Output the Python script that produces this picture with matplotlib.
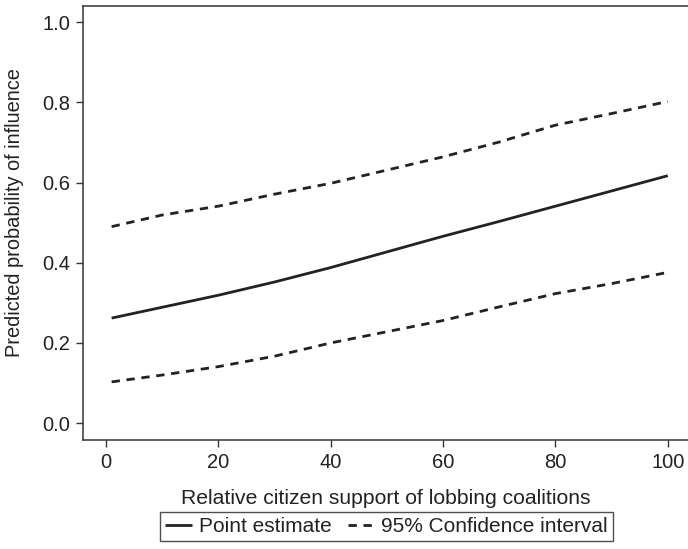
import matplotlib
matplotlib.use("Agg")
import matplotlib.pyplot as plt

# values
support = [1, 10, 20, 30, 40, 50, 60, 70, 80, 90, 100]
point_est = [0.262, 0.289, 0.319, 0.352, 0.388, 0.427, 0.466, 0.503, 0.541, 0.579, 0.617]
ci_upper = [0.490, 0.519, 0.541, 0.571, 0.598, 0.631, 0.664, 0.701, 0.743, 0.772, 0.802]
ci_lower = [0.103, 0.120, 0.141, 0.167, 0.200, 0.228, 0.256, 0.290, 0.323, 0.348, 0.376]

x_ticks = [0, 20, 40, 60, 80, 100]
y_ticks = [0.0, 0.2, 0.4, 0.6, 0.8, 1.0]

plt.rcParams['font.family'] = ['Liberation Sans', 'DejaVu Sans']
ink = "#222222"

fig = plt.figure(figsize=(6.88, 5.49), dpi=100)
ax = fig.add_axes([0.1206, 0.1985, 0.8794, 0.7905])

ax.plot(support, point_est, color=ink, lw=2.0, solid_capstyle="butt",
        label="Point estimate")
ax.plot(support, ci_upper, color=ink, lw=2.0, dashes=(3.0, 2.4),
        label="95% Confidence interval")
ax.plot(support, ci_lower, color=ink, lw=2.0, dashes=(3.0, 2.4))

ax.set_xlim(-4.1, 103.6)
ax.set_ylim(-0.042, 1.04)
ax.set_xticks(x_ticks)
ax.set_yticks(y_ticks)
ax.set_yticklabels(["%.1f" % v for v in y_ticks])

ax.spines["right"].set_visible(False)
for side in ["left", "bottom", "top"]:
    ax.spines[side].set_color("#333333")
    ax.spines[side].set_linewidth(1.1)
ax.tick_params(direction="out", length=5, width=1, color="#333333",
               labelsize=14.5, labelcolor=ink, pad=4)

ax.set_xlabel("Relative citizen support of lobbing coalitions", fontsize=15.2,
              color=ink)
ax.xaxis.set_label_coords(0.5, -0.114)
ax.set_ylabel("Predicted probability of influence", fontsize=14.4,
              color=ink)
ax.yaxis.set_label_coords(-0.097, 0.525)

leg = fig.legend(loc="lower center", bbox_to_anchor=(0.562, 0.014), ncol=2,
                 fontsize=15, frameon=True, fancybox=False, handlelength=1.3,
                 handletextpad=0.3, columnspacing=0.8, borderpad=0.25,
                 borderaxespad=0)
leg.get_frame().set_edgecolor(ink)
leg.get_frame().set_linewidth(1.0)
for t in leg.get_texts():
    t.set_color(ink)

fig.savefig("out.png", dpi=100)
